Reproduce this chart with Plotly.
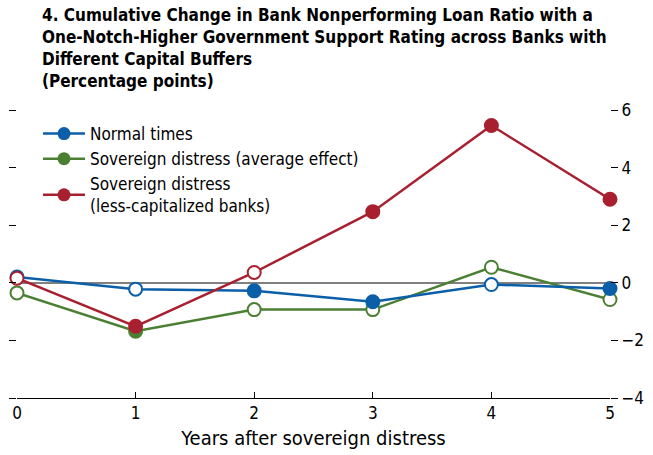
import plotly.graph_objects as go

years = [0, 1, 2, 3, 4, 5]
normal = [0.20, -0.22, -0.28, -0.66, -0.06, -0.20]
normal_sig = [False, False, True, True, False, True]
sov_avg = [-0.35, -1.68, -0.93, -0.93, 0.54, -0.58]
sov_avg_sig = [False, True, False, False, False, False]
sov_less = [0.16, -1.51, 0.36, 2.47, 5.46, 2.90]
sov_less_sig = [False, True, False, True, True, True]

names = ["Normal times", "Sovereign distress (average effect)",
         "Sovereign distress<br>(less-capitalized banks)"]
colors = ["#0B5FA8", "#4B7F33", "#A8202F"]
yticks = [-4, -2, 0, 2, 4, 6]

FONT = "DejaVu Sans Condensed, Liberation Sans Narrow, sans-serif"

L, R, T, B = 17, 43, 110, 57
PW, PH = 653 - L - R, 455 - T - B

fig = go.Figure()

series = [(sov_avg, sov_avg_sig, colors[1]), (normal, normal_sig, colors[0]),
          (sov_less, sov_less_sig, colors[2])]
for vals, sig, col in series:
    fig.add_trace(go.Scatter(
        x=years, y=vals, mode="lines+markers", showlegend=False,
        cliponaxis=False,
        line=dict(color=col, width=2.5),
        marker=dict(size=13, symbol="circle",
                    color=[col if s else "white" for s in sig],
                    line=dict(color=col, width=2)),
        yaxis="y2"))

for name, col in zip(names, colors):
    fig.add_trace(go.Scatter(
        x=[None], y=[None], mode="lines+markers", name=name,
        line=dict(color=col, width=2.5),
        marker=dict(size=13, color=col)))

fig.add_annotation(
    text="<b>4. Cumulative Change in Bank Nonperforming Loan Ratio with a<br>"
         "One-Notch-Higher Government Support Rating across Banks with<br>"
         "Different Capital Buffers<br>(Percentage points)</b>",
    xref="paper", yref="paper", x=(40 - L) / PW, y=1 + (T - 3) / PH,
    xanchor="left", yanchor="top", align="left", showarrow=False,
    font=dict(family=FONT, size=17, color="black"))

fig.update_layout(
    width=653, height=455,
    margin=dict(l=L, r=R, t=T, b=B, autoexpand=False),
    paper_bgcolor="white", plot_bgcolor="white",
    font=dict(family=FONT, size=17, color="black"),
    legend=dict(x=(38 - L) / PW, y=1 - 6 / PH, xanchor="left", yanchor="top",
                bgcolor="rgba(0,0,0,0)", tracegroupgap=0, itemwidth=42,
                font=dict(family=FONT, size=17)),
    xaxis=dict(range=[0, 5], tickvals=years, ticks="inside", ticklen=6,
               tickcolor="black", showline=True, linecolor="black", linewidth=1,
               showgrid=False, zeroline=False, automargin=False,
               title=dict(text="Years after sovereign distress", standoff=8),
               tickfont=dict(size=17)),
    yaxis=dict(range=[-4, 6], tickvals=yticks, ticks="outside", ticklen=7,
               tickcolor="black", showticklabels=False, showgrid=False,
               zeroline=False, showline=False, automargin=False),
    yaxis2=dict(range=[-4, 6], tickvals=yticks, ticks="outside", ticklen=7,
                tickcolor="black", overlaying="y", side="right",
                showgrid=False, zeroline=True, zerolinecolor="#808080",
                zerolinewidth=1.5, showline=False, automargin=False,
                tickfont=dict(size=17)),
)

fig.write_html("out.html", config={"displayModeBar": False},
               post_script="document.body.style.margin='0px';document.body.style.padding='0px';")
